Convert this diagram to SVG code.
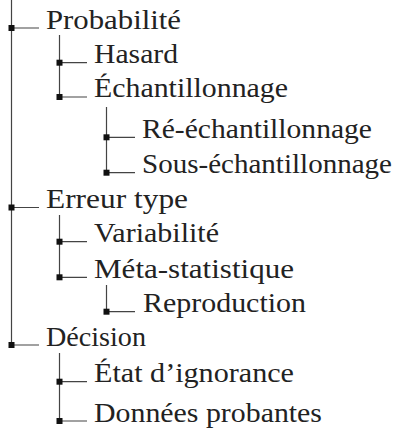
<svg xmlns="http://www.w3.org/2000/svg" width="397" height="428" viewBox="0 0 397 428">
<style>
.l{stroke:#444;stroke-width:1.2;fill:none}
.s{fill:#111}
.t{font-family:'Liberation Serif','DejaVu Serif',serif;font-size:27px;fill:#222}
</style>
<defs><rect id="sq" x="-3" y="-3" width="6" height="6" class="s"/></defs>
<rect width="397" height="428" fill="#fff"/>
<g id="connectors">
<path class="l" d="M11.5 0V345M11.5 28H39M11.5 207.5H39M11.5 345H39"/>
<path class="l" d="M59.5 35V97M59.5 62.7H87M59.5 97H87"/>
<path class="l" d="M106.5 107V172.7M106.5 137.3H135M106.5 172.7H135"/>
<path class="l" d="M59.5 215V277.3M59.5 241.7H87M59.5 277.3H87"/>
<path class="l" d="M106.5 285V311.7M106.5 311.7H135"/>
<path class="l" d="M59.5 353V421M59.5 381.7H87M59.5 421H87"/>
<use href="#sq" x="11.5" y="28"/><use href="#sq" x="11.5" y="207.5"/><use href="#sq" x="11.5" y="345"/>
<use href="#sq" x="59.5" y="62.7"/><use href="#sq" x="59.5" y="97"/>
<use href="#sq" x="106.5" y="137.3"/><use href="#sq" x="106.5" y="172.7"/>
<use href="#sq" x="59.5" y="241.7"/><use href="#sq" x="59.5" y="277.3"/>
<use href="#sq" x="106.5" y="311.7"/>
<use href="#sq" x="59.5" y="381.7"/><use href="#sq" x="59.5" y="421"/>
</g>
<g id="n1"><text class="t" x="46" y="28.5" textLength="135" lengthAdjust="spacingAndGlyphs">Probabilité</text></g>
<g id="n2"><text class="t" x="94" y="63" textLength="84" lengthAdjust="spacingAndGlyphs">Hasard</text></g>
<g id="n3"><text class="t" x="94" y="97" textLength="194" lengthAdjust="spacingAndGlyphs">Échantillonnage</text></g>
<g id="n4"><text class="t" x="142" y="137.8" textLength="230" lengthAdjust="spacingAndGlyphs">Ré-échantillonnage</text></g>
<g id="n5"><text class="t" x="142" y="173.2" textLength="250" lengthAdjust="spacingAndGlyphs">Sous-échantillonnage</text></g>
<g id="n6"><text class="t" x="46" y="208" textLength="142" lengthAdjust="spacingAndGlyphs">Erreur type</text></g>
<g id="n7"><text class="t" x="94" y="242.2" textLength="125" lengthAdjust="spacingAndGlyphs">Variabilité</text></g>
<g id="n8"><text class="t" x="94" y="277.8" textLength="200" lengthAdjust="spacingAndGlyphs">Méta-statistique</text></g>
<g id="n9"><text class="t" x="143" y="312.2" textLength="163" lengthAdjust="spacingAndGlyphs">Reproduction</text></g>
<g id="n10"><text class="t" x="46" y="345.5" textLength="100" lengthAdjust="spacingAndGlyphs">Décision</text></g>
<g id="n11"><text class="t" x="94" y="382.2" textLength="200" lengthAdjust="spacingAndGlyphs">État d’ignorance</text></g>
<g id="n12"><text class="t" x="94" y="421.5" textLength="228" lengthAdjust="spacingAndGlyphs">Données probantes</text></g>
</svg>
